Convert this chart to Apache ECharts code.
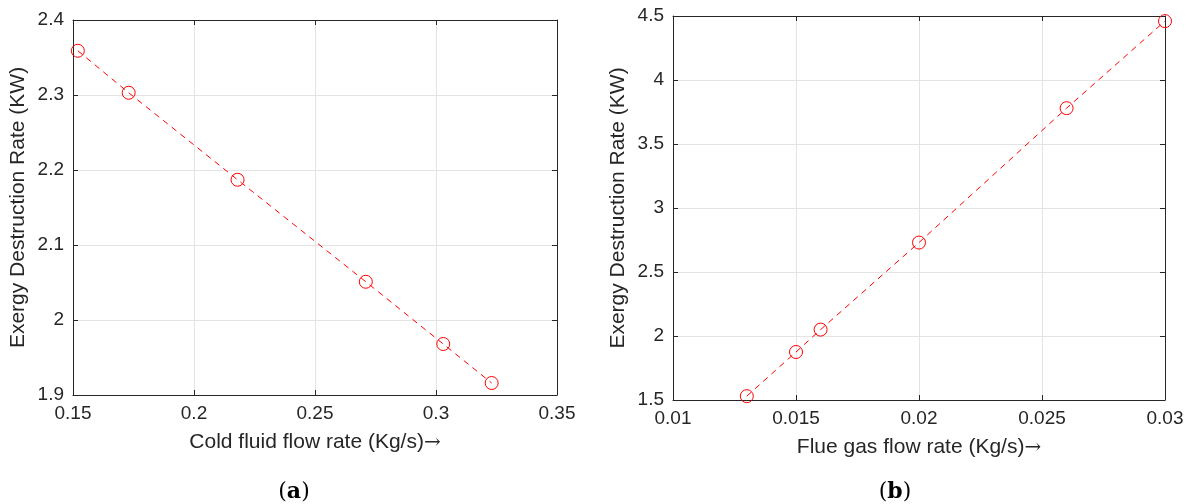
<!DOCTYPE html>
<html>
<head>
<meta charset="utf-8">
<script src="https://cdn.jsdelivr.net/npm/echarts@6/dist/echarts.min.js"></script>
<style>
  html, body { margin: 0; padding: 0; background: #fff; }
  #chart { width: 1192px; height: 504px; }
</style>
</head>
<body>
<div id="chart"></div>
<script>
// (a) cold fluid
var coldFlow = [0.152, 0.173, 0.218, 0.271, 0.303, 0.323];
var coldExergy = [2.359, 2.303, 2.187, 2.051, 1.968, 1.916];
// (b) flue gas
var flueFlow = [0.013, 0.015, 0.016, 0.020, 0.026, 0.030];
var flueExergy = [1.53, 1.875, 2.05, 2.73, 3.78, 4.46];

var txt = '#262626';
var font = 'Liberation Sans';

var chart = echarts.init(document.getElementById('chart'));

function pairs(xs, ys) {
  return xs.map(function (x, i) { return [x, ys[i]]; });
}

// main axis + a mirror axis to close the box like matlab
function xAxes(gridIndex, min, max, step, name) {
  return [{
    type: 'value', gridIndex: gridIndex, min: min, max: max, interval: step,
    name: name + '{arr|\u2192}', nameLocation: 'middle', nameGap: 37,
    nameTextStyle: {
      color: txt, fontSize: 21, fontFamily: font,
      rich: { arr: { color: txt, fontSize: 20, fontFamily: 'DejaVu Serif' } }
    },
    axisLine: { onZero: false, lineStyle: { color: txt, width: 1 } },
    axisTick: { inside: true, length: 5, lineStyle: { color: txt } },
    axisLabel: { color: txt, fontSize: 19, fontFamily: font, margin: 9 },
    splitLine: { show: true, lineStyle: { color: '#e3e3e3' } }
  }, {
    type: 'value', gridIndex: gridIndex, min: min, max: max, interval: step,
    position: 'top',
    axisLine: { onZero: false, lineStyle: { color: txt, width: 1 } },
    axisTick: { inside: true, length: 5, lineStyle: { color: txt } },
    axisLabel: { show: false },
    splitLine: { show: false }
  }];
}

function yAxes(gridIndex, min, max, step) {
  return [{
    type: 'value', gridIndex: gridIndex, min: min, max: max, interval: step,
    name: 'Exergy Destruction Rate (KW)', nameLocation: 'middle', nameGap: 44,
    nameTextStyle: { color: txt, fontSize: 21, fontFamily: font },
    axisLine: { show: true, onZero: false, lineStyle: { color: txt, width: 1 } },
    axisTick: { show: true, inside: true, length: 5, lineStyle: { color: txt } },
    axisLabel: { color: txt, fontSize: 19, fontFamily: font, margin: 9 },
    splitLine: { show: true, lineStyle: { color: '#e3e3e3' } }
  }, {
    type: 'value', gridIndex: gridIndex, min: min, max: max, interval: step,
    position: 'right',
    axisLine: { show: true, onZero: false, lineStyle: { color: txt, width: 1 } },
    axisTick: { show: true, inside: true, length: 5, lineStyle: { color: txt } },
    axisLabel: { show: false },
    splitLine: { show: false }
  }];
}

function lineSeries(xi, yi, data) {
  return {
    type: 'line', xAxisIndex: xi, yAxisIndex: yi, data: data,
    symbol: 'circle', symbolSize: 13, showSymbol: true,
    lineStyle: { color: '#ff0000', width: 1, type: [6, 5] },
    itemStyle: { color: 'rgba(0,0,0,0)', borderColor: '#ff0000', borderWidth: 1 },
    silent: true, animation: false
  };
}

var xa = xAxes(0, 0.15, 0.35, 0.05, 'Cold fluid flow rate (Kg/s)')
  .concat(xAxes(1, 0.01, 0.03, 0.005, 'Flue gas flow rate (Kg/s)'));
var ya = yAxes(0, 1.9, 2.4, 0.1).concat(yAxes(1, 1.5, 4.5, 0.5));

function panelLabel(letter, cx) {
  return {
    type: 'text', x: cx, y: 492,
    style: {
      text: '({b|' + letter + '})', fill: '#000', fontSize: 22, fontFamily: 'DejaVu Serif',
      align: 'center', verticalAlign: 'middle',
      rich: { b: { fontWeight: 'bold', fontSize: 22, fontFamily: 'DejaVu Serif', fill: '#000' } }
    }
  };
}

chart.setOption({
  backgroundColor: '#fff',
  animation: false,
  grid: [
    { left: 73, top: 20, width: 484, height: 375 },
    { left: 673, top: 16, width: 492, height: 384 }
  ],
  xAxis: xa,
  yAxis: ya,
  series: [
    lineSeries(0, 0, pairs(coldFlow, coldExergy)),
    lineSeries(2, 2, pairs(flueFlow, flueExergy))
  ],
  graphic: [panelLabel('a', 294), panelLabel('b', 895)]
});
</script>
</body>
</html>
